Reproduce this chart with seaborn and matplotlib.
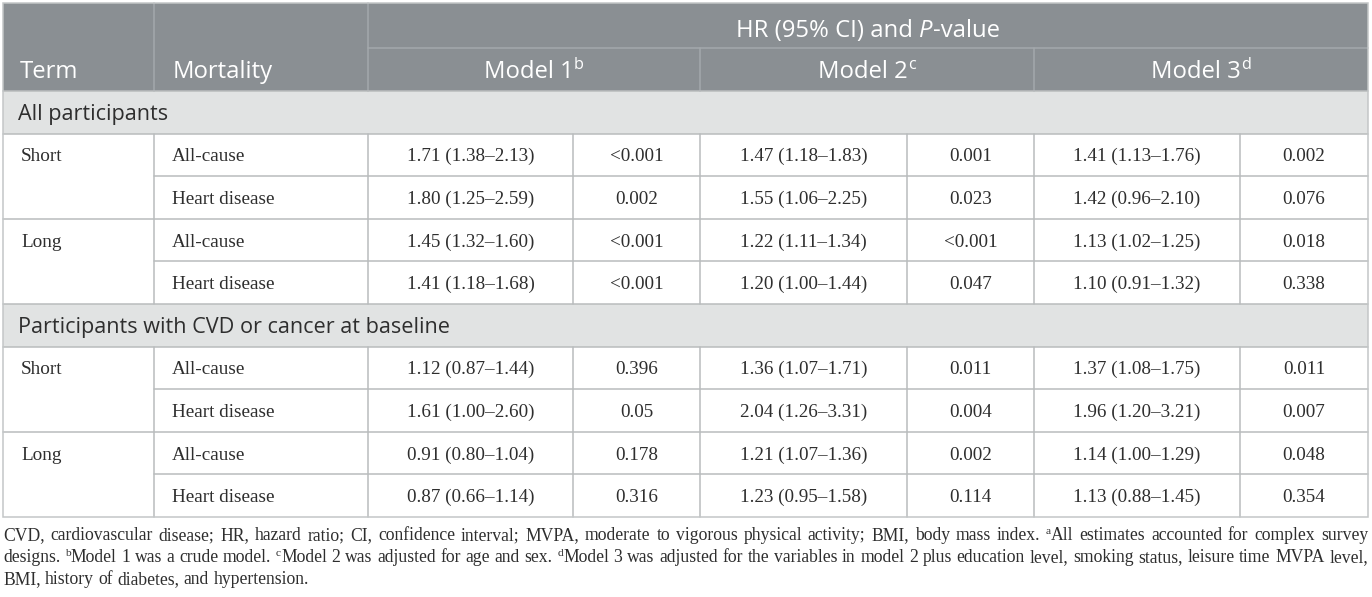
import matplotlib
matplotlib.use("Agg")
import matplotlib.pyplot as plt
import seaborn as sns

# ---------------- data ----------------
groups = ["All participants", "Participants with CVD or cancer at baseline"]
terms = ["Short", "Long"]
mortality = ["All-cause", "Heart disease"]
models = ["Model 1", "Model 2", "Model 3"]
model_marks = ["b", "c", "d"]

m1_hr = [1.71, 1.80, 1.45, 1.41, 1.12, 1.61, 0.91, 0.87]
m1_lo = [1.38, 1.25, 1.32, 1.18, 0.87, 1.00, 0.80, 0.66]
m1_hi = [2.13, 2.59, 1.60, 1.68, 1.44, 2.60, 1.04, 1.14]
m1_p = ["<0.001", "0.002", "<0.001", "<0.001", "0.396", "0.05", "0.178", "0.316"]

m2_hr = [1.47, 1.55, 1.22, 1.20, 1.36, 2.04, 1.21, 1.23]
m2_lo = [1.18, 1.06, 1.11, 1.00, 1.07, 1.26, 1.07, 0.95]
m2_hi = [1.83, 2.25, 1.34, 1.44, 1.71, 3.31, 1.36, 1.58]
m2_p = ["0.001", "0.023", "<0.001", "0.047", "0.011", "0.004", "0.002", "0.114"]

m3_hr = [1.41, 1.42, 1.13, 1.10, 1.37, 1.96, 1.14, 1.13]
m3_lo = [1.13, 0.96, 1.02, 0.91, 1.08, 1.20, 1.00, 0.88]
m3_hi = [1.76, 2.10, 1.25, 1.32, 1.75, 3.21, 1.29, 1.45]
m3_p = ["0.002", "0.076", "0.018", "0.338", "0.011", "0.007", "0.048", "0.354"]

header_top = "HR (95% CI) and "
header_italic = "P"
header_end = "-value"

foot1 = "CVD, cardiovascular disease; HR, hazard ratio; CI, confidence interval; MVPA, moderate to vigorous physical activity; BMI, body mass index."
foot1b = "All estimates accounted for complex survey"
foot2a = "designs."
foot2b = "Model 1 was a crude model."
foot2c = "Model 2 was adjusted for age and sex."
foot2d = "Model 3 was adjusted for the variables in model 2 plus education level, smoking status, leisure time MVPA level,"
foot3 = "BMI, history of diabetes, and hypertension."

# ---------------- style ----------------
sns.set_theme(style="white")
SANS = ["Open Sans", "DejaVu Sans"]
SERIF = ["Liberation Serif", "DejaVu Serif"]
HEAD_BG = "#8a8f93"
HEAD_LINE = "#a4a9ac"
BAND_BG = "#e1e3e3"
GRID = "#b9bcbd"
BORDER = "#c3c6c7"
TXT = "#2e2e2e"

W, H = 1372, 597
fig = plt.figure(figsize=(W / 100, H / 100), dpi=100)
ax = fig.add_axes([0, 0, 1, 1])
ax.set_xlim(0, W)
ax.set_ylim(H, 0)
ax.axis("off")
renderer = fig.canvas.get_renderer()

cols = [3, 154, 368, 573, 700, 907, 1034, 1240, 1368]
ytop, ysplit, yhead = 3, 48, 91
rh = 42.6

HEAD_FS = 17.2
BAND_FS = 15.6
BODY_FS = 13.8
FOOT_FS = 12.0


def width_of(t):
    return t.get_window_extent(renderer).width


def build(tokens):
    objs = []
    for s, props, dy, gap in tokens:
        t = ax.text(0, 0, s, va="baseline", ha="left", **props)
        objs.append([t, width_of(t), gap, dy])
    return objs


def space_width(props):
    t1 = ax.text(0, 0, "n n", **props)
    t2 = ax.text(0, 0, "nn", **props)
    sp = width_of(t1) - width_of(t2)
    t1.remove(); t2.remove()
    return sp


def place_tokens(x0, y, tokens, ha="left", x1=None, justify=False):
    """tokens: (text, props, dy, gap_before)"""
    objs = build(tokens)
    sp = space_width(tokens[0][1])
    total_w = sum(o[1] for o in objs)
    ngaps = sum(1 for o in objs if o[2])
    if justify and x1 is not None and ngaps:
        sp = (x1 - x0 - total_w) / ngaps
    total = total_w + ngaps * sp
    x = x0 if ha == "left" else x0 - total / 2
    for t, w, gap, dy in objs:
        if gap:
            x += sp
        t.set_x(x)
        t.set_y(y + dy)
        x += w
    return objs


def natural_width(tokens):
    objs = build(tokens)
    sp = space_width(tokens[0][1])
    tot = sum(o[1] for o in objs) + sp * sum(1 for o in objs if o[2])
    for o in objs:
        o[0].remove()
    return tot


def words(s, props, first_gap=True):
    out = []
    for i, wd in enumerate(s.split(" ")):
        out.append((wd, props, 0, first_gap if i == 0 else True))
    return out


# ---------------- backgrounds ----------------
ax.add_patch(plt.Rectangle((cols[0], ytop), cols[-1] - cols[0], yhead - ytop,
                           facecolor=HEAD_BG, edgecolor="none", zorder=0))
band_y = [yhead, yhead + rh * 5]
for by in band_y:
    ax.add_patch(plt.Rectangle((cols[0], by), cols[-1] - cols[0], rh,
                               facecolor=BAND_BG, edgecolor="none", zorder=0))

# header lines
lw = 1.1
ax.plot([cols[2], cols[-1]], [ysplit, ysplit], color=HEAD_LINE, lw=lw, zorder=1)
for cx in [cols[1], cols[2]]:
    ax.plot([cx, cx], [ytop, yhead], color=HEAD_LINE, lw=lw, zorder=1)
for cx in [cols[4], cols[6]]:
    ax.plot([cx, cx], [ysplit, yhead], color=HEAD_LINE, lw=lw, zorder=1)

# body grid
row_tops = []
for gi in range(2):
    g0 = band_y[gi] + rh
    for r in range(4):
        row_tops.append(g0 + r * rh)
    for cx in cols[1:-1]:
        ax.plot([cx, cx], [g0, g0 + 4 * rh], color=GRID, lw=lw, zorder=1)
    ax.plot([cols[0], cols[-1]], [band_y[gi], band_y[gi]], color=GRID, lw=lw, zorder=1)
    ax.plot([cols[0], cols[-1]], [g0, g0], color=GRID, lw=lw, zorder=1)
    ax.plot([cols[1], cols[-1]], [g0 + rh, g0 + rh], color=GRID, lw=lw, zorder=1)
    ax.plot([cols[0], cols[-1]], [g0 + 2 * rh, g0 + 2 * rh], color=GRID, lw=lw, zorder=1)
    ax.plot([cols[1], cols[-1]], [g0 + 3 * rh, g0 + 3 * rh], color=GRID, lw=lw, zorder=1)
ybottom = row_tops[-1] + rh
ax.add_patch(plt.Rectangle((cols[0], ytop), cols[-1] - cols[0], ybottom - ytop,
                           facecolor="none", edgecolor=BORDER, lw=lw, zorder=2))

# ---------------- header text ----------------
hp = dict(fontsize=HEAD_FS, family=SANS, color="white")
hpi = dict(fontsize=HEAD_FS, family=SANS, color="white", style="italic")
hps = dict(fontsize=HEAD_FS * 0.68, family=SANS, color="white")
place_tokens((cols[2] + cols[-1]) / 2, 37,
             [(header_top.rstrip(), hp, 0, False), (header_italic, hpi, 0, True),
              (header_end, hp, 0, False)], ha="center")
ax.text(20, 78, "Term", va="baseline", **hp)
ax.text(173, 78, "Mortality", va="baseline", **hp)
for i, (m, mk) in enumerate(zip(models, model_marks)):
    cx = (cols[2 + 2 * i] + cols[4 + 2 * i]) / 2
    place_tokens(cx, 78, [(m, hp, 0, False), (mk, hps, -9, False)], ha="center")

# ---------------- body ----------------
bp = dict(fontsize=BODY_FS, family=SERIF, color=TXT)
bandp = dict(fontsize=BAND_FS, family=SANS, color=TXT)
hr_sets = [(m1_hr, m1_lo, m1_hi, m1_p), (m2_hr, m2_lo, m2_hi, m2_p), (m3_hr, m3_lo, m3_hi, m3_p)]
for gi, g in enumerate(groups):
    ax.text(18, band_y[gi] + 29, g, va="baseline", **bandp)
for k, top in enumerate(row_tops):
    base = top + rh / 2 + 6.5
    if k % 2 == 0:
        ax.text(21, base, terms[(k // 2) % 2], va="baseline", **bp)
    ax.text(172, base, mortality[k % 2], va="baseline", **bp)
    for i, (hr, lo, hi, p) in enumerate(hr_sets):
        c_hr = (cols[2 + 2 * i] + cols[3 + 2 * i]) / 2
        c_p = (cols[3 + 2 * i] + cols[4 + 2 * i]) / 2
        ax.text(c_hr, base, f"{hr[k]:.2f} ({lo[k]:.2f}\u2013{hi[k]:.2f})", ha="center", va="baseline", **bp)
        ax.text(c_p, base, p[k], ha="center", va="baseline", **bp)


# ---------------- footnote ----------------
def foot_lines(fsz):
    fp = dict(fontsize=fsz, family=SERIF, color=TXT)
    fs = dict(fontsize=fsz * 0.65, family=SERIF, color=TXT)
    l1 = words(foot1, fp, False) + [("a", fs, -6, True)] + words(foot1b, fp, False)
    l2 = (words(foot2a, fp, False) + [("b", fs, -6, True)] + words(foot2b, fp, False)
          + [("c", fs, -6, True)] + words(foot2c, fp, False)
          + [("d", fs, -6, True)] + words(foot2d, fp, False))
    l3 = words(foot3, fp, False)
    return l1, l2, l3


l1, l2, _ = foot_lines(FOOT_FS)
nat = max(natural_width(l1), natural_width(l2))
fsz = FOOT_FS * (cols[-1] - cols[0] - 8) / nat
l1, l2, l3 = foot_lines(fsz)
place_tokens(cols[0], 540, l1, x1=cols[-1], justify=True)
place_tokens(cols[0], 562, l2, x1=cols[-1], justify=True)
place_tokens(cols[0], 584, l3)

fig.savefig("out.png", dpi=100, facecolor="white")
